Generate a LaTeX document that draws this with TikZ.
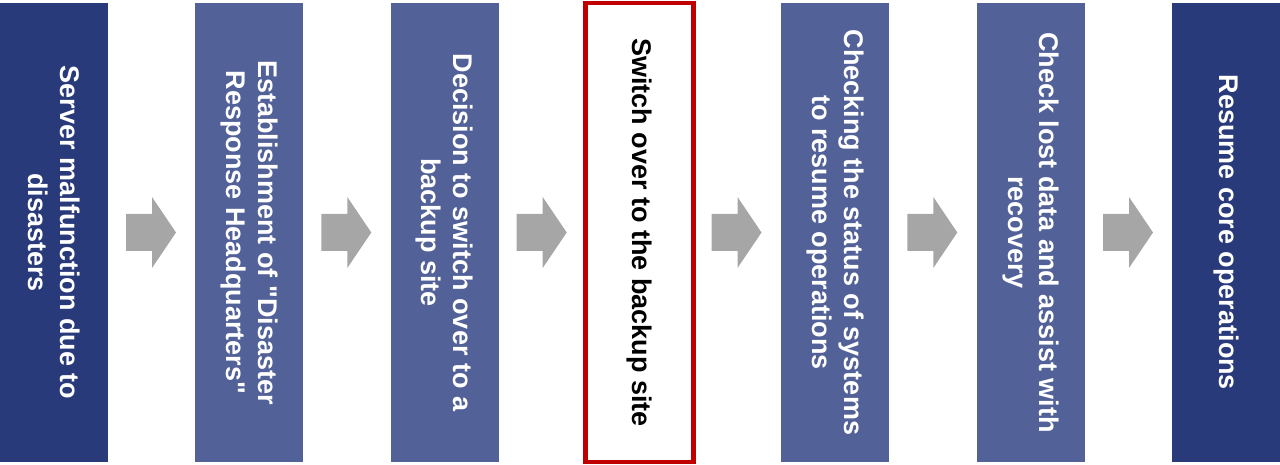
\documentclass[tikz,border=0pt]{standalone}
\usepackage{fontspec}
\setmainfont{Liberation Sans}[Ligatures=TeXOff]
\usetikzlibrary{calc}
\definecolor{navy}{RGB}{41,58,123}
\definecolor{slate}{RGB}{82,97,152}
\definecolor{redline}{RGB}{192,0,0}
\definecolor{arrowgray}{RGB}{166,166,166}
\begin{document}
\begin{tikzpicture}[x=1pt,y=-1pt,
  stepbox/.style={minimum width=108pt,minimum height=459pt,inner sep=0pt,outer sep=0pt},
  darkbox/.style={stepbox,fill=navy},
  midbox/.style={stepbox,fill=slate},
  focusbox/.style={stepbox,fill=white,draw=redline,line width=4.5pt},
  steplabel/.style={rotate=-90,text width=420pt,align=flush center,inner sep=0pt,
    font=\bfseries\fontsize{27}{31.5}\selectfont},
]
\useasboundingbox (0,0) rectangle (1280,465);
\node[darkbox]  (b1) at (54,232.5) {};
\node[midbox]   (b2) at (249.3,232.5) {};
\node[midbox]   (b3) at (444.7,232.5) {};
\node[focusbox] (b4) at (639.5,232.5) {};
\node[midbox]   (b5) at (835.3,232.5) {};
\node[midbox]   (b6) at (1031,232.5) {};
\node[darkbox]  (b7) at (1226,232.5) {};

\node[steplabel,text=white] (t1) at (b1.center) {Server malfunction due to disasters};
\node[steplabel,text=white] (t2) at (b2.center) {Establishment of "Disaster Response Headquarters"};
\node[steplabel,text=white] (t3) at (b3.center) {Decision to switch over to a backup site};
\node[steplabel,text=black] (t4) at (b4.center) {Switch over to the backup site};
\node[steplabel,text=white] (t5) at (b5.center) {Checking the status of systems to resume operations};
\node[steplabel,text=white] (t6) at (b6.center) {Check lost data and assist with recovery};
\node[steplabel,text=white] (t7) at (b7.center) {Resume core operations};

\foreach \a in {b1,b2,b3,b4,b5,b6}{
  \fill[arrowgray] ($(\a.east)+(18,-18.5)$) -- ++(26,0) -- ++(0,-17) -- ++(24,35.5)
    -- ++(-24,35.5) -- ++(0,-17) -- ++(-26,0) -- cycle;
}
\end{tikzpicture}
\end{document}
